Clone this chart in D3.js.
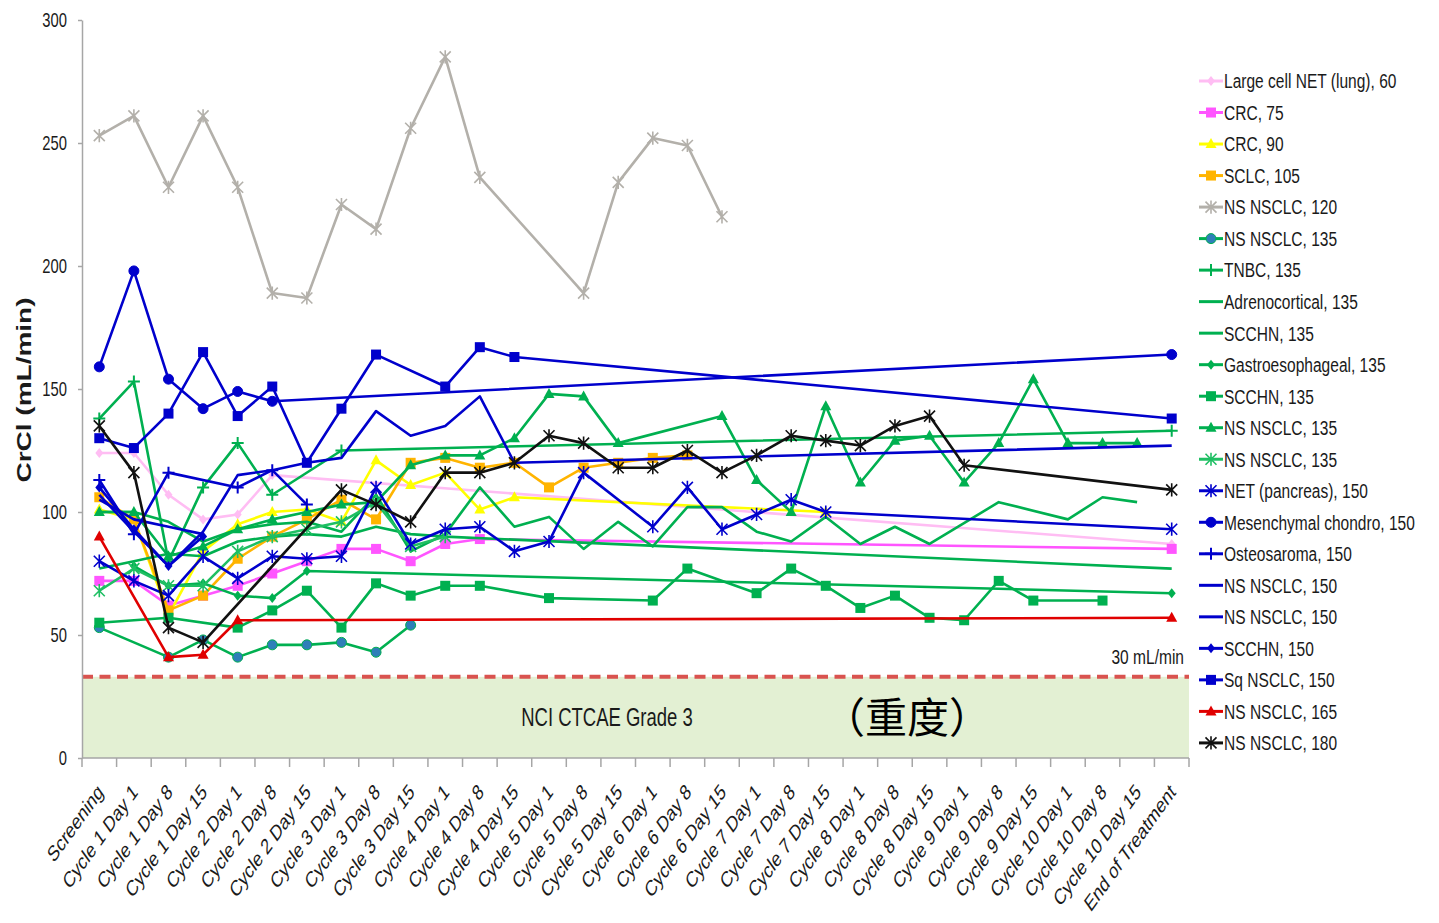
<!DOCTYPE html>
<html>
<head>
<meta charset="utf-8">
<script src="https://cdn.jsdelivr.net/npm/d3@7"></script>
<style>
  body { margin: 0; background: #fff; }
  text { font-family: "Liberation Sans", Arial, sans-serif; fill: #1a1a1a; }
</style>
</head>
<body>
<svg id="chart" width="1439" height="923"></svg>
<script>
const _ = null;

// x categories (visits)
const categories = [
  "Screening", "Cycle 1 Day 1", "Cycle 1 Day 8", "Cycle 1 Day 15",
  "Cycle 2 Day 1", "Cycle 2 Day 8", "Cycle 2 Day 15",
  "Cycle 3 Day 1", "Cycle 3 Day 8", "Cycle 3 Day 15",
  "Cycle 4 Day 1", "Cycle 4 Day 8", "Cycle 4 Day 15",
  "Cycle 5 Day 1", "Cycle 5 Day 8", "Cycle 5 Day 15",
  "Cycle 6 Day 1", "Cycle 6 Day 8", "Cycle 6 Day 15",
  "Cycle 7 Day 1", "Cycle 7 Day 8", "Cycle 7 Day 15",
  "Cycle 8 Day 1", "Cycle 8 Day 8", "Cycle 8 Day 15",
  "Cycle 9 Day 1", "Cycle 9 Day 8", "Cycle 9 Day 15",
  "Cycle 10 Day 1", "Cycle 10 Day 8", "Cycle 10 Day 15",
  "End of Treatment"
];

const yTicks = [0, 50, 100, 150, 200, 250, 300];
const grade3Limit = 33;

// CrCl values per patient, one entry per visit (null = not measured)
const largeCellNet60 = [124,124,107,97,99,115,_,_,_,_,_,_,_,_,_,_,_,_,_,_,_,_,_,_,_,_,_,_,_,_,_,87];
const crc75 = [72,72,62,66,70,75,80,85,85,80,87,89,_,_,_,_,_,_,_,_,_,_,_,_,_,_,_,_,_,_,_,85];
const crc90 = [101,97,58,84,95,100,101,96,121,111,116,101,106,_,_,_,_,_,_,_,_,100,_,_,_,_,_,_,_,_,_,_];
const sclc105 = [106,97,60,66,81,90,97,105,97,120,122,118,120,110,118,120,122,123,_,_,_,_,_,_,_,_,_,_,_,_,_,_];
const nsNsclc120 = [253,261,232,261,232,189,187,225,215,256,285,236,_,_,189,234,252,249,220,_,_,_,_,_,_,_,_,_,_,_,_,_];
const nsNsclc135a = [53,_,41,48,41,46,46,47,43,54,_,_,_,_,_,_,_,_,_,_,_,_,_,_,_,_,_,_,_,_,_,_];
const tnbc135 = [138,153,80,110,128,107,_,125,_,_,_,_,_,_,_,_,_,_,_,_,_,_,_,_,_,_,_,_,_,_,_,133];
const adrenocortical135 = [100,100,96,88,93,95,96,92,107,84,91,110,94,98,85,96,86,102,102,92,88,98,87,94,87,_,104,_,97,106,104,_];
const scchn135a = [77,80,83,82,88,90,91,90,94,91,90,_,_,_,_,_,_,_,_,_,_,_,_,_,_,_,_,_,_,_,_,77];
const gastro135 = [_,78,70,71,66,65,76,_,_,_,_,_,_,_,_,_,_,_,_,_,_,_,_,_,_,_,_,_,_,_,_,67];
const scchn135b = [55,_,57,_,53,60,68,53,71,66,70,70,_,65,_,_,64,77,_,67,77,70,61,66,57,56,72,64,_,64,_,_];
const nsNsclc135b = [100,100,82,86,93,97,100,103,104,119,123,123,130,148,147,128,_,_,139,113,100,143,112,129,131,112,128,154,128,128,128,_];
const nsNsclc135c = [68,77,70,70,84,90,93,96,104,86,90,_,_,_,_,_,_,_,_,_,_,_,_,_,_,_,_,_,_,_,_,_];
const netPancreas150 = [80,72,66,82,73,82,81,82,110,87,93,94,84,88,116,_,94,110,93,99,105,100,_,_,_,_,_,_,_,_,_,93];
const mesenchymal150 = [159,198,154,142,149,145,_,_,_,_,_,_,_,_,_,_,_,_,_,_,_,_,_,_,_,_,_,_,_,_,_,164];
const osteosaroma150 = [113,91,116,_,110,117,103,_,_,_,_,_,_,_,_,_,_,_,_,_,_,_,_,_,_,_,_,_,_,_,_,_];
const nsNsclc150a = [107,92,78,92,115,117,120,122,141,131,135,147,120,_,_,_,_,_,_,_,_,_,_,_,_,_,_,_,_,_,_,127];
const nsNsclc150b = [105,97,94,91,_,_,_,_,_,_,_,_,_,_,_,_,_,_,_,_,_,_,_,_,_,_,_,_,_,_,_,_];
const scchn150 = [110,93,78,90,_,_,_,_,_,_,_,_,_,_,_,_,_,_,_,_,_,_,_,_,_,_,_,_,_,_,_,_];
const sqNsclc150 = [130,126,140,165,139,151,120,142,164,_,151,167,163,_,_,_,_,_,_,_,_,_,_,_,_,_,_,_,_,_,_,138];
const nsNsclc165 = [90,_,41,42,56,_,_,_,_,_,_,_,_,_,_,_,_,_,_,_,_,_,_,_,_,_,_,_,_,_,_,57];
const nsNsclc180 = [135,116,53,47,_,_,_,109,103,96,116,116,120,131,128,118,118,125,116,123,131,129,127,135,139,119,_,_,_,_,_,109];

const green = "#00b050", blue = "#0000cc";
const series = [
  { name: "Large cell NET (lung), 60", values: largeCellNet60, color: "#ffbdf3", marker: "diamond" },
  { name: "CRC, 75", values: crc75, color: "#ff55ff", marker: "square" },
  { name: "CRC, 90", values: crc90, color: "#ffff00", marker: "triangle" },
  { name: "SCLC, 105", values: sclc105, color: "#ffb400", marker: "square" },
  { name: "NS NSCLC, 120", values: nsNsclc120, color: "#b3b0aa", marker: "asterisk" },
  { name: "NS NSCLC, 135", values: nsNsclc135a, color: green, marker: "circle", fill: "#2f7fb8" },
  { name: "TNBC, 135", values: tnbc135, color: green, marker: "plus" },
  { name: "Adrenocortical, 135", values: adrenocortical135, color: green, marker: "none" },
  { name: "SCCHN, 135", values: scchn135a, color: green, marker: "none" },
  { name: "Gastroesophageal, 135", values: gastro135, color: green, marker: "diamond" },
  { name: "SCCHN, 135", values: scchn135b, color: green, marker: "square" },
  { name: "NS NSCLC, 135", values: nsNsclc135b, color: green, marker: "triangle" },
  { name: "NS NSCLC, 135", values: nsNsclc135c, color: "#1fbf63", marker: "asterisk" },
  { name: "NET (pancreas), 150", values: netPancreas150, color: blue, marker: "asterisk" },
  { name: "Mesenchymal chondro, 150", values: mesenchymal150, color: blue, marker: "circle" },
  { name: "Osteosaroma, 150", values: osteosaroma150, color: blue, marker: "plus" },
  { name: "NS NSCLC, 150", values: nsNsclc150a, color: blue, marker: "none" },
  { name: "NS NSCLC, 150", values: nsNsclc150b, color: blue, marker: "none" },
  { name: "SCCHN, 150", values: scchn150, color: blue, marker: "diamond" },
  { name: "Sq NSCLC, 150", values: sqNsclc150, color: blue, marker: "square" },
  { name: "NS NSCLC, 165", values: nsNsclc165, color: "#e00000", marker: "triangle" },
  { name: "NS NSCLC, 180", values: nsNsclc180, color: "#111111", marker: "asterisk" }
];

// layout
const plot = { left: 82, right: 1189, top: 20, bottom: 758 };
const squeeze = 0.74; // the source image text is horizontally condensed

const svg = d3.select("#chart");

const x = d3.scaleBand().domain(categories).range([plot.left, plot.right]);
const cx = c => x(c) + x.bandwidth() / 2;
const y = d3.scaleLinear().domain([0, 300]).range([plot.bottom, plot.top]);

// grade 3 zone
svg.append("rect")
  .attr("x", plot.left)
  .attr("y", y(grade3Limit))
  .attr("width", plot.right - plot.left)
  .attr("height", y(0) - y(grade3Limit))
  .attr("fill", "#e3f0d3");

svg.append("line")
  .attr("x1", plot.left).attr("x2", plot.right)
  .attr("y1", y(grade3Limit)).attr("y2", y(grade3Limit))
  .attr("stroke", "#d9534f")
  .attr("stroke-width", 4)
  .attr("stroke-dasharray", "11,6.5");

svg.append("text")
  .attr("transform", `translate(${plot.right - 5}, ${y(grade3Limit) - 13}) scale(${squeeze},1)`)
  .attr("text-anchor", "end")
  .attr("font-size", 21)
  .text("30 mL/min");

svg.append("text")
  .attr("transform", `translate(607, ${y(grade3Limit / 2)}) scale(${squeeze},1)`)
  .attr("text-anchor", "middle")
  .attr("dy", "0.35em")
  .attr("font-size", 25)
  .text("NCI CTCAE Grade 3");

svg.append("text")
  .attr("x", 907)
  .attr("y", y(grade3Limit / 2))
  .attr("text-anchor", "middle")
  .attr("dy", "0.36em")
  .attr("font-size", 42)
  .style("font-family", "'Noto Sans CJK SC', 'Noto Sans CJK JP', sans-serif")
  .style("fill", "#000")
  .text("（重度）");

// y axis
const yAxis = svg.append("g")
  .attr("transform", `translate(${plot.left},0)`)
  .call(d3.axisLeft(y).tickValues(yTicks).tickSize(4).tickSizeOuter(0));
yAxis.select(".domain").attr("stroke", "#a6a6a6").attr("stroke-width", 1.5);
yAxis.selectAll(".tick line").attr("stroke", "#a6a6a6").attr("stroke-width", 1.5);
yAxis.selectAll(".tick text")
  .attr("x", -15 / squeeze)
  .attr("transform", `scale(${squeeze},1)`)
  .attr("font-size", 20)
  .style("font-family", "'Liberation Sans', Arial, sans-serif")
  .attr("fill", "#1a1a1a");

svg.append("text")
  .attr("transform", `translate(31, ${(plot.top + plot.bottom) / 2 + 1}) scale(${squeeze},1) rotate(-90)`)
  .attr("text-anchor", "middle")
  .attr("font-size", 28)
  .attr("font-weight", "bold")
  .text("CrCl (mL/min)");

// x axis
const xAxis = svg.append("g");
xAxis.append("line")
  .attr("x1", plot.left).attr("x2", plot.right)
  .attr("y1", plot.bottom).attr("y2", plot.bottom)
  .attr("stroke", "#a6a6a6").attr("stroke-width", 1.5);
xAxis.selectAll(".xtick")
  .data(categories.map(c => x(c)).concat([plot.right]))
  .join("line")
  .attr("class", "xtick")
  .attr("x1", d => d).attr("x2", d => d)
  .attr("y1", plot.bottom).attr("y2", plot.bottom + 9)
  .attr("stroke", "#a6a6a6").attr("stroke-width", 1.5);
xAxis.selectAll(".xlabel")
  .data(categories)
  .join("text")
  .attr("class", "xlabel")
  .attr("transform", c => `translate(${cx(c) + 1}, 788) scale(0.72,1) rotate(-45)`)
  .attr("text-anchor", "end")
  .attr("dy", "0.35em")
  .attr("font-size", 22)
  .text(c => c);

// markers
function drawMarker(g, type, color, fill, size) {
  const s = size;
  if (type === "square") {
    g.append("rect").attr("x", -s).attr("y", -s).attr("width", 2 * s).attr("height", 2 * s)
      .attr("fill", color);
  } else if (type === "circle") {
    g.append("circle").attr("r", s).attr("fill", fill || color).attr("stroke", color).attr("stroke-width", 1);
  } else if (type === "triangle") {
    g.append("path").attr("d", `M0,${-s * 1.2}L${s * 1.1},${s * 0.8}L${-s * 1.1},${s * 0.8}Z`).attr("fill", color);
  } else if (type === "diamond") {
    g.append("path").attr("d", `M0,${-s}L${s * 0.8},0L0,${s}L${-s * 0.8},0Z`).attr("fill", color);
  } else if (type === "plus") {
    g.append("path").attr("d", `M${-s},0H${s}M0,${-s}V${s}`).attr("stroke", color).attr("stroke-width", 2).attr("fill", "none");
  } else if (type === "asterisk") {
    g.append("path").attr("d", `M${-s},${-s}L${s},${s}M${-s},${s}L${s},${-s}M0,${-s * 1.2}V${s * 1.2}`)
      .attr("stroke", color).attr("stroke-width", 1.6).attr("fill", "none");
  }
}

const markerSize = { square: 5, circle: 5, triangle: 5, diamond: 5, plus: 6, asterisk: 5.5, none: 0 };

const line = d3.line().x(d => cx(d.cat)).y(d => y(d.v));

series.forEach(s => {
  const pts = categories.map((c, i) => ({ cat: c, v: s.values[i] })).filter(d => d.v !== null);
  const g = svg.append("g").attr("class", "series");
  g.append("path")
    .datum(pts)
    .attr("d", line)
    .attr("fill", "none")
    .attr("stroke", s.color)
    .attr("stroke-width", 2.6)
    .attr("stroke-linejoin", "round");
  if (s.marker !== "none") {
    g.selectAll(".pt")
      .data(pts)
      .join("g")
      .attr("class", "pt")
      .attr("transform", d => `translate(${cx(d.cat)},${y(d.v)})`)
      .each(function () { drawMarker(d3.select(this), s.marker, s.color, s.fill, markerSize[s.marker]); });
  }
});

// legend
const legend = svg.append("g");
const legendTop = 81, legendStep = 31.52;
series.forEach((s, i) => {
  const ly = legendTop + i * legendStep;
  const g = legend.append("g").attr("transform", `translate(0,${ly})`);
  g.append("line").attr("x1", 1199).attr("x2", 1223).attr("stroke", s.color).attr("stroke-width", 3);
  if (s.marker !== "none") {
    const m = g.append("g").attr("transform", "translate(1211,0)");
    drawMarker(m, s.marker, s.color, s.fill, markerSize[s.marker]);
  }
  g.append("text")
    .attr("transform", `translate(1224,0) scale(${squeeze},1)`)
    .attr("dy", "0.35em")
    .attr("font-size", 21)
    .text(s.name);
});
</script>
</body>
</html>
